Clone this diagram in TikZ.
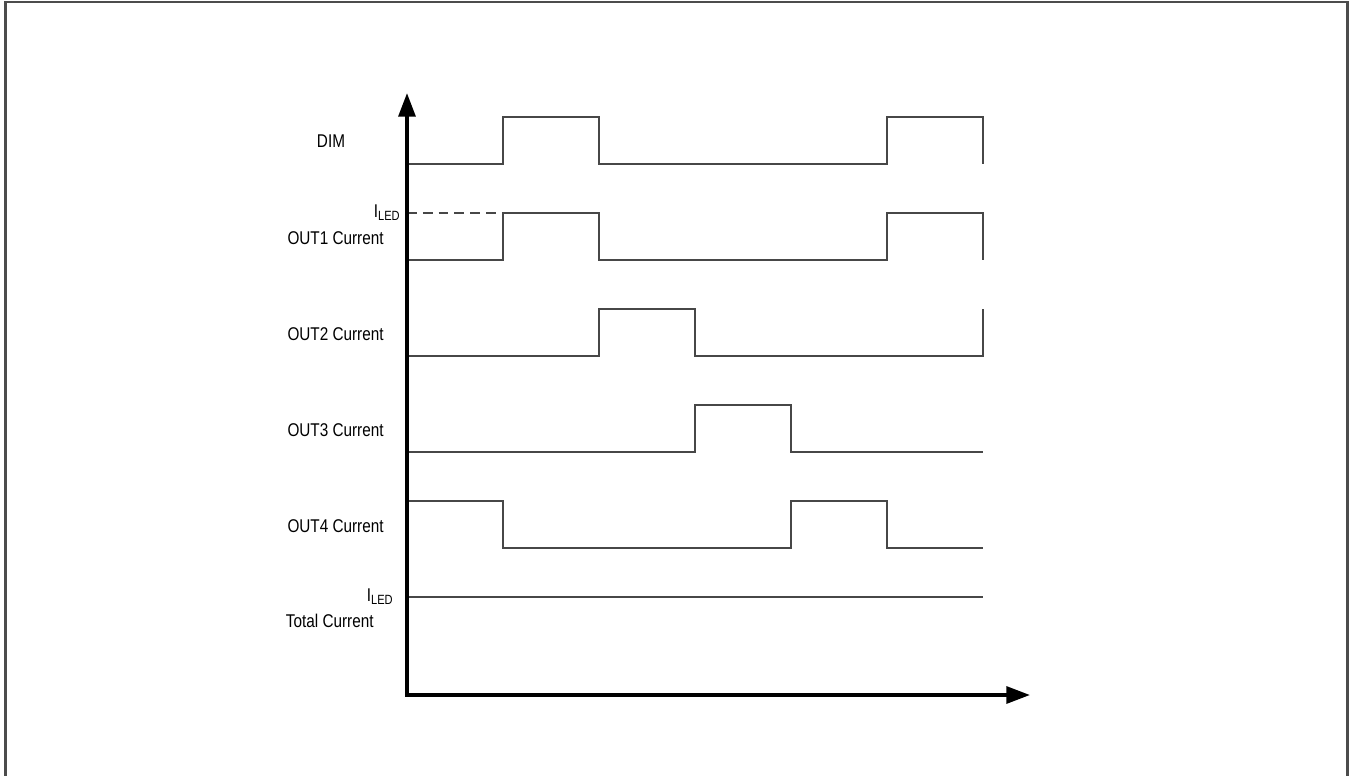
\documentclass[tikz,border=0pt]{standalone}
\usepackage{fontspec}
\setmainfont{Liberation Sans}[FakeStretch=0.83]
\usetikzlibrary{arrows.meta}
\tikzset{
  ax/.style={{Triangle[length=13.5pt,width=9.6pt]}-{Triangle[length=13.5pt,width=9.6pt]},line width=2.1pt,draw=black},
  sig/.style={draw=black!72,line width=1.1pt},
  sigd/.style={sig,dash pattern=on 5.6pt off 3.4pt},
  frm/.style={draw=black!70,line width=1.2pt},
  lb/.style={font=\fontsize{10.5}{12}\selectfont,inner sep=0pt},
}
\newcommand{\iled}{I\raisebox{-.3ex}{\fontsize{7.6}{8}\selectfont LED}}

\begin{document}
\begin{tikzpicture}[x=0.02cm,y=-0.02cm]
\useasboundingbox (0,0) rectangle (1350,775);
% ---- frame
\draw[frm] (5.5,790) -- (5.5,2) -- (1347.5,2) -- (1347.5,790);
% ---- waveforms
\draw[sig] (407,164) -- (503,164) -- (503,117) -- (599,117) -- (599,164)
  -- (887,164) -- (887,117) -- (983,117) -- (983,164);
\draw[sigd] (407,213) -- (503,213);
\draw[sig] (407,260) -- (503,260) -- (503,213) -- (599,213) -- (599,260)
  -- (887,260) -- (887,213) -- (983,213) -- (983,260);
\draw[sig] (407,356) -- (599,356) -- (599,309) -- (695,309) -- (695,356)
  -- (983,356) -- (983,309);
\draw[sig] (407,452) -- (695,452) -- (695,405) -- (791,405) -- (791,452)
  -- (983,452);
\draw[sig] (407,501) -- (503,501) -- (503,548) -- (791,548) -- (791,501)
  -- (887,501) -- (887,548) -- (983,548);
\draw[sig] (407,597) -- (983,597);
% ---- axes
\coordinate (o) at (407,695);
\coordinate (ytop) at (407,93);
\coordinate (xend) at (1030,695);
\draw[ax] (ytop) -- (o) -- (xend);
% ---- labels
\node[lb] (dim) at (331,141) {DIM};
\node[lb,anchor=east] (i1) at (400,213) {\iled};
\node[lb,anchor=east] (o1) at (384,238) {OUT1 Current};
\node[lb,anchor=east] (o2) at (384,334) {OUT2 Current};
\node[lb,anchor=east] (o3) at (384,430) {OUT3 Current};
\node[lb,anchor=east] (o4) at (384,526) {OUT4 Current};
\node[lb,anchor=east] (i2) at (393,597) {\iled};
\node[lb,anchor=east] (tot) at (374,621) {Total Current};
\end{tikzpicture}
\end{document}
